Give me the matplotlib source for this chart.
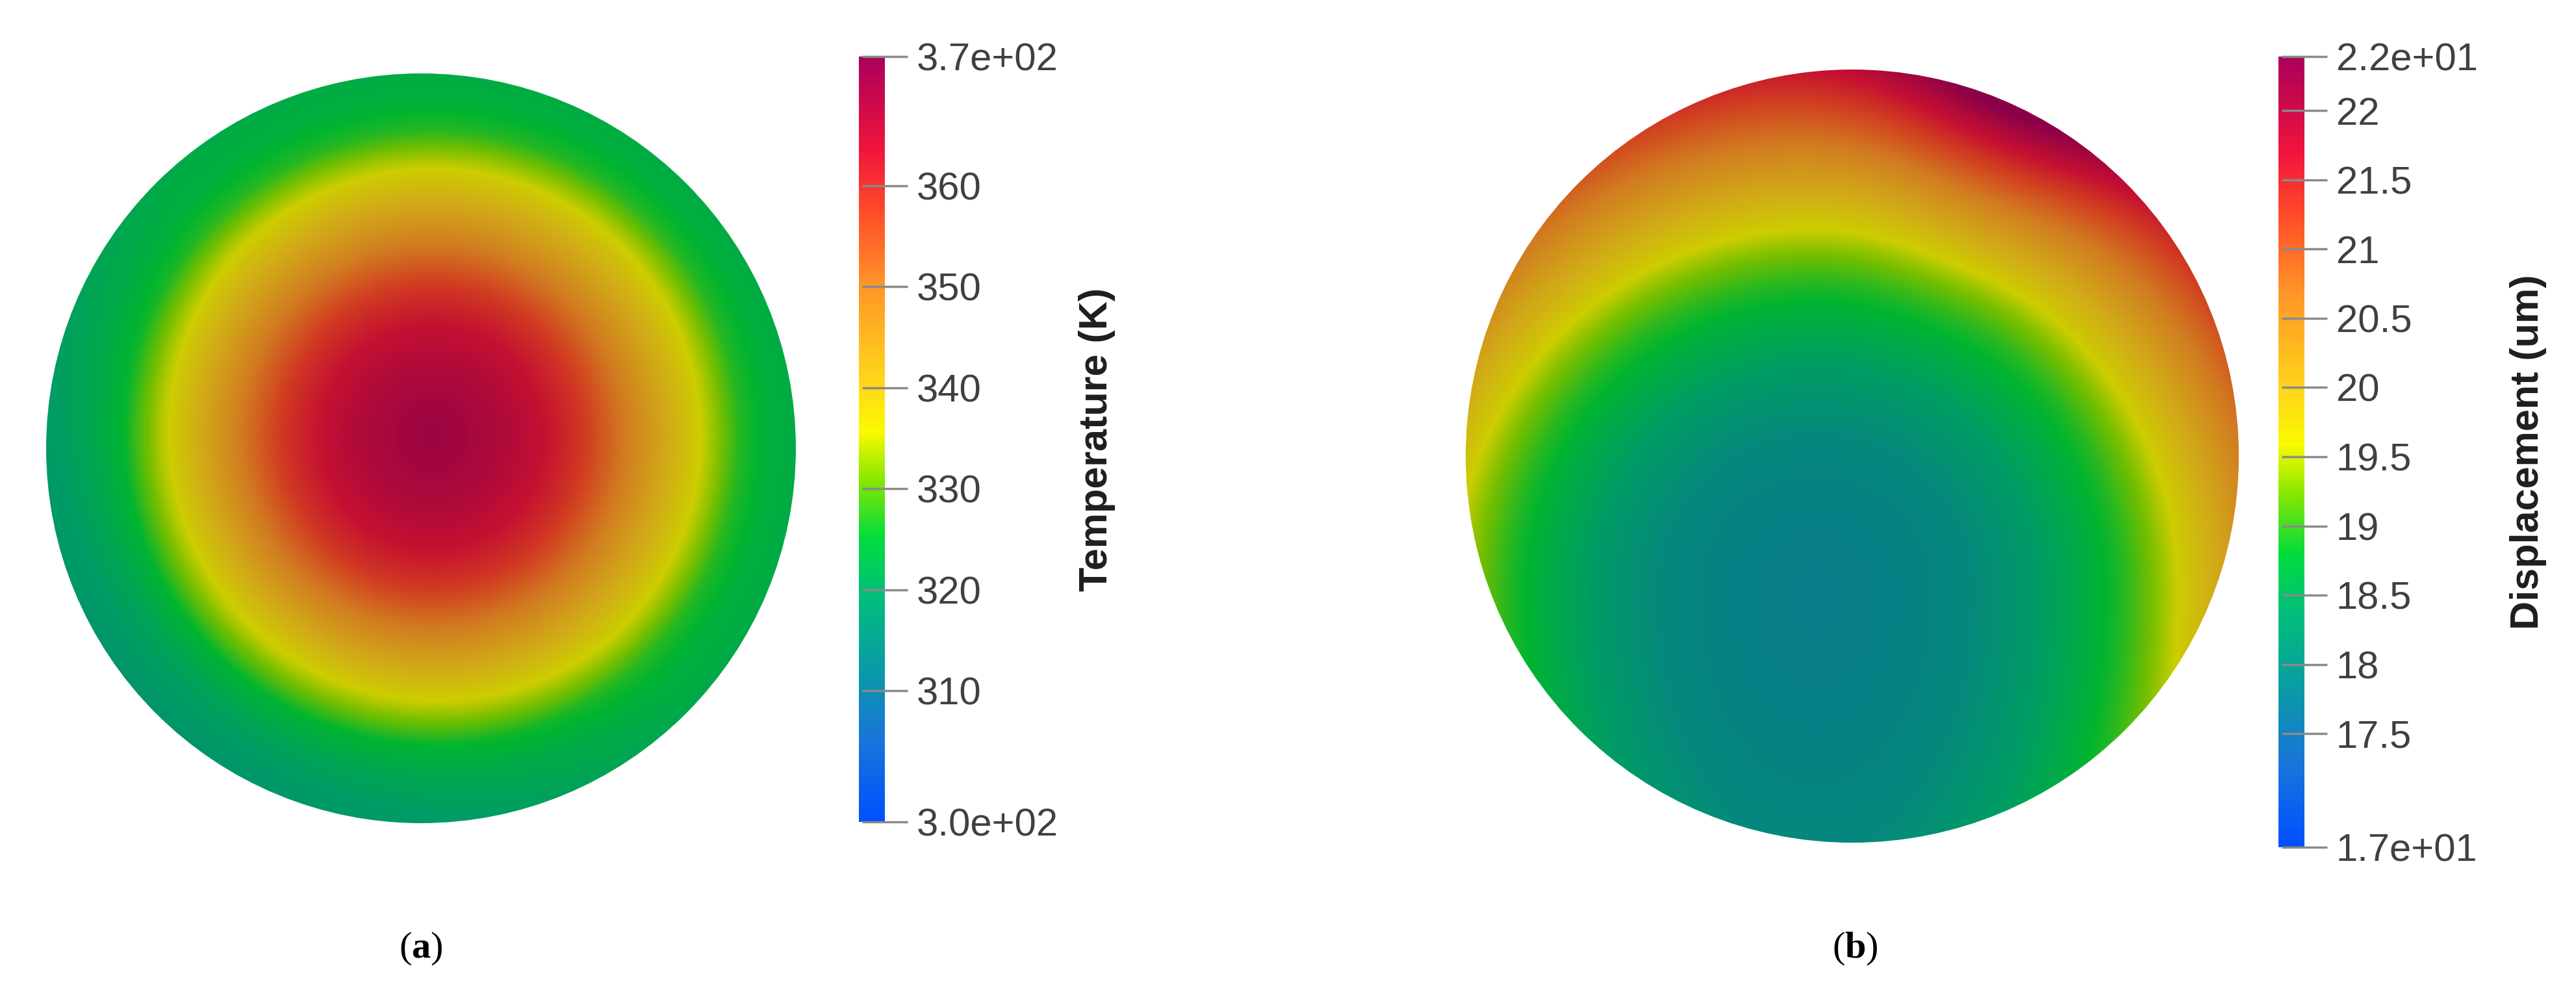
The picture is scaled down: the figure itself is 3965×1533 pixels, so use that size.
import numpy as np
import matplotlib
matplotlib.use("Agg")
import matplotlib.pyplot as plt
from matplotlib.cm import ScalarMappable
from matplotlib.colors import LinearSegmentedColormap, Normalize
from matplotlib.patches import Circle

W, H, DPI = 3966, 1533, 100

# colour scale stops
CMAP_POS = [0.0, 0.1, 0.2, 0.3, 0.37, 0.45, 0.51, 0.58, 0.7, 0.8, 0.88, 1.0]
CMAP_RGB = [(0, 80, 255), (25, 115, 220), (10, 155, 165), (0, 192, 120), (0, 220, 60),
            (140, 232, 0), (250, 250, 0), (255, 212, 28), (255, 150, 40), (255, 75, 40),
            (240, 20, 60), (170, 0, 90)]
SHADE = 0.82  # the rendered discs are darker than the legend

# (a) temperature: radial profile from the hot centre, cooler bottom-left rim
TEMP_MIN, TEMP_MAX = 297.0, 372.8
TEMP_TICKS = [310, 320, 330, 340, 350, 360]
TEMP_R = [0.0, 0.19, 0.3, 0.4, 0.5, 0.6, 0.66, 0.72, 0.77, 0.82, 0.9, 1.0, 1.1]
TEMP_K = [370.5, 367.0, 363.5, 358.5, 351.0, 343.5, 339.5, 335.5, 331.5, 327.0, 324.0,
          322.5, 322.0]
TEMP_CENTRE = (0.03, 0.03)
TEMP_RIM_DROP = 4.5

# (b) displacement: distance from the low point near the bottom, peak at top right
DISP_MIN, DISP_MAX = 16.68, 22.39
DISP_TICKS = [17.5, 18, 18.5, 19, 19.5, 20, 20.5, 21, 21.5, 22]
DISP_D = [0.0, 0.2, 0.4, 0.55, 0.7, 0.8, 0.88, 0.95, 1.05, 1.15, 1.25, 1.35, 1.45, 1.6]
DISP_UM = [17.8, 17.85, 18.0, 18.3, 18.65, 18.95, 19.3, 19.65, 20.1, 20.6, 21.1, 21.6,
           22.0, 22.3]
DISP_LOW = (-0.095, -0.35)
DISP_BELOW = 0.6  # contours stretch out below the low point
DISP_BUMP = 0.9

plt.rcParams["mathtext.fontset"] = "custom"
plt.rcParams["mathtext.rm"] = "Liberation Serif"
plt.rcParams["mathtext.bf"] = "Liberation Serif:bold"

stops = [(p, tuple(c / 255 for c in rgb)) for p, rgb in zip(CMAP_POS, CMAP_RGB)]
cmap = LinearSegmentedColormap.from_list("legend", stops)
cmap_disc = LinearSegmentedColormap.from_list(
    "disc", [(p, tuple(SHADE * v for v in c)) for p, c in stops])

n = 700
x, y = np.meshgrid(np.linspace(-1, 1, n), np.linspace(-1, 1, n))
rad = np.hypot(x, y)
theta = np.arctan2(y, x)

temp = np.interp(np.hypot(x - TEMP_CENTRE[0], y - TEMP_CENTRE[1]), TEMP_R, TEMP_K)
temp -= TEMP_RIM_DROP * np.clip(np.cos(theta - np.radians(225)), 0, None) * rad ** 3

dy = y - DISP_LOW[1]
dy = np.where(dy < 0, dy * DISP_BELOW, dy)
disp = np.interp(np.hypot(x - DISP_LOW[0], dy), DISP_D, DISP_UM)
disp += DISP_BUMP * np.exp(-((np.degrees(theta) - 65) / 20) ** 2) * rad ** 4

fig = plt.figure(figsize=(W / DPI, H / DPI), dpi=DPI)


def px_axes(left, top, width, height):
    return fig.add_axes([left / W, 1 - (top + height) / H, width / W, height / H])


def disc(cx, cy, r, field, vmin, vmax):
    ax = px_axes(cx - r, cy - r, 2 * r, 2 * r)
    im = ax.imshow(field, extent=(-1, 1, -1, 1), origin="lower", cmap=cmap_disc,
                   norm=Normalize(vmin, vmax), interpolation="bilinear")
    im.set_clip_path(Circle((0, 0), 1, transform=ax.transData))
    ax.set_xlim(-1, 1)
    ax.set_ylim(-1, 1)
    ax.axis("off")


def legend_bar(left, top, bottom, vmin, vmax, ticks, title, title_x):
    cax = px_axes(left, top, 40, bottom - top)
    cb = fig.colorbar(ScalarMappable(Normalize(vmin, vmax), cmap), cax=cax)
    cb.outline.set_visible(False)
    cb.set_ticks([vmin] + ticks + [vmax])
    cb.set_ticklabels([f"{vmin:.1e}"] + [f"{t:g}" for t in ticks] + [f"{vmax:.1e}"])
    cax.tick_params(direction="inout", length=50, width=2.5, color="#8a8a8a", pad=10,
                    labelsize=43, labelcolor="#404040")
    for lab in cax.get_yticklabels():
        lab.set_family("Liberation Sans")
    fig.text(title_x / W, 1 - (top + bottom) / 2 / H, title, rotation=90, ha="center",
             va="center", fontsize=44, fontweight="bold", family="Liberation Sans",
             color="#1e1e1e")


disc(648, 690, 577, temp, TEMP_MIN, TEMP_MAX)
legend_bar(1322, 87, 1265, TEMP_MIN, TEMP_MAX, TEMP_TICKS, "Temperature (K)", 1689)
disc(2851, 702, 595, disp, DISP_MIN, DISP_MAX)
legend_bar(3507, 87, 1304, DISP_MIN, DISP_MAX, DISP_TICKS, "Displacement (um)", 3892)

for cx, tag in [(648, "a"), (2855, "b")]:
    fig.text(cx / W, 1 - 1460 / H, rf"($\mathbf{{{tag}}}$)", ha="center", va="center",
             fontsize=42, family="Liberation Serif")

fig.savefig("out.png", dpi=DPI, facecolor="white")
